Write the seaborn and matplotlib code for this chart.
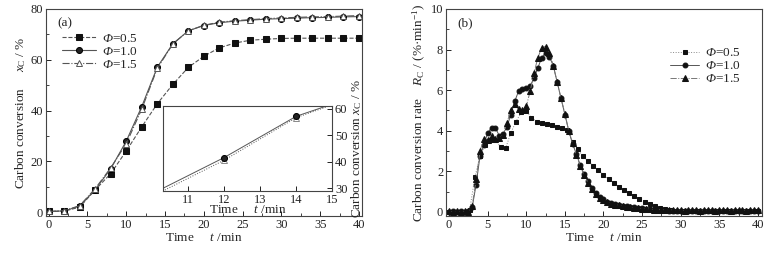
import matplotlib
matplotlib.use("Agg")
import matplotlib.pyplot as plt
from matplotlib.ticker import MultipleLocator
import numpy as np
import seaborn as sns

# Panel (a): carbon conversion x_C (%) sampled every 2 min
t_conv = [0, 2, 4, 6, 8, 10, 12, 14, 16, 18, 20, 22, 24, 26, 28, 30, 32, 34, 36, 38, 40]
conv_05 = [0.3, 0.4, 2.0, 8.8, 15.2, 24.1, 33.6, 42.7, 50.3, 57.0, 61.4, 64.7, 66.6, 67.7,
           68.1, 68.4, 68.5, 68.5, 68.5, 68.5, 68.5]
conv_10 = [0.3, 0.5, 2.4, 8.9, 17.1, 28.0, 41.6, 57.1, 66.3, 71.4, 73.5, 74.6, 75.2, 75.6,
           76.0, 76.2, 76.4, 76.6, 76.7, 76.9, 77.0]
conv_15 = [0.3, 0.6, 2.6, 9.3, 17.5, 27.0, 40.6, 56.6, 66.2, 71.4, 73.6, 74.8, 75.4, 75.8,
           76.2, 76.5, 76.7, 76.9, 77.0, 77.2, 77.4]

# Panel (b): carbon conversion rate R_C (%/min)
t_rate_05 = np.round(np.arange(61) * 2 / 3, 3)   # sampled every 40 s
t_rate = np.arange(81) * 0.5                      # sampled every 30 s
rate_05 = [0.02, 0.02, 0.02, 0.02, 0.1, 1.7, 2.75, 3.3, 3.55, 3.55,
           3.2, 3.15, 3.9, 4.45, 4.9, 4.98, 4.65, 4.45, 4.4, 4.35,
           4.28, 4.2, 4.15, 4.05, 3.45, 3.1, 2.75, 2.5, 2.27, 2.05,
           1.83, 1.62, 1.42, 1.23, 1.06, 0.92, 0.78, 0.64, 0.5, 0.38,
           0.28, 0.2, 0.14, 0.1, 0.07, 0.05, 0.04, 0.05, 0.04, 0.04,
           0.05, 0.04, 0.04, 0.05, 0.04, 0.04, 0.05, 0.04, 0.04, 0.05, 0.04]
rate_10 = [0.02, 0.03, 0.02, 0.03, 0.02, 0.03,
           0.25, 1.35, 2.75, 3.3, 3.9, 4.15, 4.15, 3.75, 3.85, 4.2,
           4.8, 5.45, 5.95, 6.05, 6.1, 6.2, 6.6, 7.1, 7.6, 7.85,
           7.65, 7.2, 6.4, 5.6, 4.8, 4.0, 3.35, 2.85, 2.3, 1.85,
           1.5, 1.2, 0.95, 0.75, 0.62, 0.5, 0.42, 0.37, 0.33, 0.3,
           0.27, 0.24, 0.22, 0.2, 0.18, 0.16, 0.14, 0.12, 0.1, 0.09,
           0.08, 0.07, 0.06, 0.05,
           0.04, 0.05, 0.04, 0.06, 0.04, 0.05, 0.04, 0.06, 0.05, 0.04, 0.05,
           0.04, 0.06, 0.04, 0.05, 0.04, 0.05, 0.04, 0.06, 0.04, 0.05]
rate_15 = [0.03, 0.02, 0.03, 0.02, 0.03, 0.02,
           0.3, 1.6, 3.0, 3.6, 3.55, 3.75, 3.6, 3.65, 3.8, 4.4,
           5.0, 5.3, 5.05, 5.0, 5.2, 5.95, 6.85, 7.6, 8.1, 8.15,
           7.85, 7.2, 6.4, 5.6, 4.85, 4.0, 3.4, 2.8, 2.25, 1.8,
           1.45, 1.15, 0.9, 0.7, 0.58, 0.47, 0.4, 0.35, 0.32, 0.28,
           0.25, 0.22, 0.2, 0.18, 0.16, 0.15, 0.13, 0.12, 0.11, 0.1,
           0.1, 0.09, 0.09, 0.08,
           0.09, 0.07, 0.1, 0.08, 0.09, 0.07, 0.1, 0.08, 0.09, 0.07, 0.1,
           0.08, 0.09, 0.07, 0.1, 0.08, 0.09, 0.07, 0.1, 0.08, 0.09]

# mathtext "rm" is set to italic so that the capital Phi comes out slanted;
# upright pieces inside math use \mathsf (mapped to the regular serif face)
labels = [r"$\Phi$=0.5", r"$\Phi$=1.0", r"$\Phi$=1.5"]

sns.set_style("ticks")
plt.rcParams["font.family"] = ["Liberation Serif", "DejaVu Serif"]
plt.rcParams["mathtext.fontset"] = "custom"
plt.rcParams["mathtext.rm"] = "Liberation Serif:italic"
plt.rcParams["mathtext.it"] = "Liberation Serif:italic"
plt.rcParams["mathtext.sf"] = "Liberation Serif"
plt.rcParams["font.size"] = 9

fig = plt.figure(figsize=(7.69, 2.54), dpi=100)
ax1 = fig.add_axes([0.0598, 0.1496, 0.411, 0.815])
ax2 = fig.add_axes([0.58, 0.1496, 0.411, 0.815])
axin = fig.add_axes([0.212, 0.248, 0.22, 0.335])

line_c = "#555555"

# ---- panel (a)
sns.lineplot(x=t_conv, y=conv_05, ax=ax1, label=labels[0], color=line_c, lw=0.8,
             linestyle="--", marker="s", ms=4, mfc="#111111", mec="#111111")
sns.lineplot(x=t_conv, y=conv_10, ax=ax1, label=labels[1], color=line_c, lw=0.8,
             linestyle="-", marker="o", ms=4.3, mfc="#222222", mec="#000000")
sns.lineplot(x=t_conv, y=conv_15, ax=ax1, label=labels[2], color=line_c, lw=0.8,
             linestyle="-.", marker="^", ms=4.5, mfc="white", mec="#555555", mew=0.7)
ax1.set_xlim(-0.35, 40.4)
ax1.set_ylim(-1.5, 80)
ax1.xaxis.set_major_locator(MultipleLocator(5))
ax1.xaxis.set_minor_locator(MultipleLocator(2.5))
ax1.yaxis.set_major_locator(MultipleLocator(20))
ax1.yaxis.set_minor_locator(MultipleLocator(10))
ax1.set_xlabel("Time     $t$ /min", labelpad=1, fontsize=9.5)
ax1.set_ylabel(r"Carbon conversion     $x_{\mathsf{C}}$ / %", labelpad=2, fontsize=9.5)
ax1.text(0.035, 0.96, "(a)", transform=ax1.transAxes, ha="left", va="top", fontsize=9.5)
ax1.legend(loc="upper left", bbox_to_anchor=(0.02, 0.93), frameon=False, fontsize=9.5,
           handlelength=2.6, handletextpad=0.5, labelspacing=0.05, borderpad=0.2)

# inset: zoom on 10-15 min
sns.lineplot(x=t_conv, y=conv_15, ax=axin, color=line_c, lw=0.7, linestyle=":",
             marker="^", ms=4, mfc="white", mec="#777777", mew=0.6)
sns.lineplot(x=t_conv, y=conv_10, ax=axin, color=line_c, lw=0.7, linestyle="-",
             marker="o", ms=4.3, mfc="#222222", mec="#000000")
axin.set_facecolor("white")
axin.set_xlim(10.3, 15)
axin.set_ylim(29, 61)
axin.xaxis.set_major_locator(MultipleLocator(1))
axin.yaxis.set_major_locator(MultipleLocator(10))
axin.yaxis.tick_right()
axin.yaxis.set_label_position("right")
axin.tick_params(axis="y", which="both", left=False, right=True)
axin.set_xlabel("Time     $t$ /min", labelpad=-1, fontsize=9.5)
axin.set_ylabel(r"Carbon conversion $x_{\mathsf{C}}$ / %", labelpad=1, fontsize=9.5)

# ---- panel (b)
sns.lineplot(x=t_rate_05, y=rate_05, ax=ax2, label=labels[0], color="#888888", lw=0.7,
             linestyle=":", marker="s", ms=3.2, mfc="#111111", mec="#111111")
sns.lineplot(x=t_rate, y=rate_10, ax=ax2, label=labels[1], color=line_c, lw=0.7,
             linestyle="-", marker="o", ms=3.5, mfc="#111111", mec="#111111")
sns.lineplot(x=t_rate, y=rate_15, ax=ax2, label=labels[2], color="#777777", lw=0.7,
             linestyle="-.", marker="^", ms=3.8, mfc="#111111", mec="#111111")
ax2.set_xlim(-0.4, 40.55)
ax2.set_ylim(-0.2, 10)
ax2.xaxis.set_major_locator(MultipleLocator(5))
ax2.xaxis.set_minor_locator(MultipleLocator(2.5))
ax2.yaxis.set_major_locator(MultipleLocator(2))
ax2.yaxis.set_minor_locator(MultipleLocator(1))
ax2.set_xlabel("Time     $t$ /min", labelpad=1, fontsize=9.5)
ax2.set_ylabel(r"Carbon conversion rate    $R_{\mathsf{C}}$ / (%·min$^{\mathsf{-1}}$)",
               labelpad=2, fontsize=9.5)
ax2.text(0.035, 0.96, "(b)", transform=ax2.transAxes, ha="left", va="top", fontsize=9.5)
ax2.legend(loc="upper right", bbox_to_anchor=(0.96, 0.86), frameon=False, fontsize=9.5,
           handlelength=2.2, handletextpad=0.4, labelspacing=0.05, borderpad=0.2)

for ax in (ax1, ax2, axin):
    ax.tick_params(which="both", direction="in", labelsize=9, pad=2, colors="#222222")
    ax.tick_params(which="major", length=3.5, width=0.7)
    ax.tick_params(which="minor", length=2, width=0.6)
    for s in ax.spines.values():
        s.set_linewidth(0.8)
        s.set_color("#444444")

fig.savefig("out.png", dpi=100)
